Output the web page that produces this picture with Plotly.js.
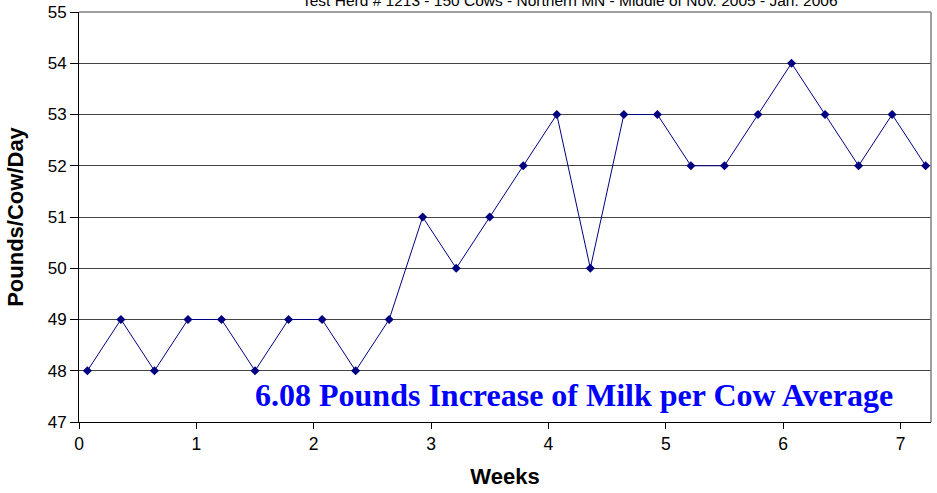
<!DOCTYPE html>
<html>
<head>
<meta charset="utf-8">
<script src="https://cdn.plot.ly/plotly-3.0.1.min.js"></script>
<style>html,body{margin:0;padding:0;background:#fff;}#chart{width:937px;height:493px;}</style>
</head>
<body>
<div id="chart"></div>
<script>
// Data: sampling day (every 2 days), value in pounds/cow/day
const days = [0.5, 2.5, 4.5, 6.5, 8.5, 10.5, 12.5, 14.5, 16.5, 18.5, 20.5, 22.5, 24.5,
              26.5, 28.5, 30.5, 32.5, 34.5, 36.5, 38.5, 40.5, 42.5, 44.5, 46.5, 48.5, 50.5];
const milk = [48, 49, 48, 49, 49, 48, 49, 49, 48, 49, 51, 50, 51,
              52, 53, 50, 53, 53, 52, 52, 53, 54, 53, 52, 53, 52];
const weeks = days.map(d => d / 7);
const xTicks = [0, 1, 2, 3, 4, 5, 6, 7];
const yTicks = [47, 48, 49, 50, 51, 52, 53, 54, 55];
const titleText = "Test Herd # 1213 - 150 Cows - Northern MN - Middle of Nov. 2005 - Jan. 2006";
const noteText = "6.08 Pounds Increase of Milk per Cow Average";

const trace = {
  x: weeks, y: milk, type: 'scatter', mode: 'lines+markers',
  line: {color: '#000080', width: 1},
  marker: {symbol: 'diamond', color: '#000080', size: 7},
  hoverinfo: 'x+y'
};

const AR = 'Arial, Liberation Sans, sans-serif';
const layout = {
  width: 937, height: 493,
  margin: {l: 79, r: 6, t: 12, b: 71},
  paper_bgcolor: '#fff', plot_bgcolor: '#fff',
  showlegend: false,
  font: {family: AR, color: '#000'},
  xaxis: {
    range: [0, 7.26], tickvals: xTicks, ticktext: xTicks.map(String),
    showgrid: false, zeroline: false,
    showline: true, linecolor: '#000', linewidth: 1,
    ticks: 'outside', ticklen: 6, tickcolor: '#000',
    tickfont: {size: 17.5, family: AR},
    title: {text: 'Weeks', font: {size: 22, family: AR, weight: 'bold'}, standoff: 15}
  },
  yaxis: {
    range: [47, 55], tickvals: yTicks, ticktext: yTicks.map(String),
    showgrid: true, gridcolor: '#444', gridwidth: 1, zeroline: false,
    showline: true, linecolor: '#000', linewidth: 1,
    ticks: 'outside', ticklen: 8, tickcolor: '#000',
    tickfont: {size: 17, family: AR},
    title: {text: 'Pounds/Cow/Day', font: {size: 22, family: AR, weight: 'bold'}, standoff: 17}
  },
  shapes: [
    {type: 'line', xref: 'paper', yref: 'paper', x0: 0, x1: 1, y0: 1, y1: 1, line: {color: '#808080', width: 1.5}},
    {type: 'line', xref: 'paper', yref: 'paper', x0: 1, x1: 1, y0: 0, y1: 1, line: {color: '#808080', width: 1.5}}
  ],
  annotations: [
    {text: titleText, xref: 'paper', yref: 'paper', x: 0.576, y: 1, xanchor: 'center', yanchor: 'middle',
     yshift: 12, showarrow: false, font: {size: 15.5, family: AR, color: '#000'}},
    {text: noteText, xref: 'paper', yref: 'paper', x: 0.581, y: 0.065, xanchor: 'center', yanchor: 'middle',
     showarrow: false, font: {size: 32, family: 'Liberation Serif, Times New Roman, serif', color: '#0000FF', weight: 'bold'}}
  ]
};

Plotly.newPlot('chart', [trace], layout, {displayModeBar: false, staticPlot: true});
</script>
</body>
</html>
